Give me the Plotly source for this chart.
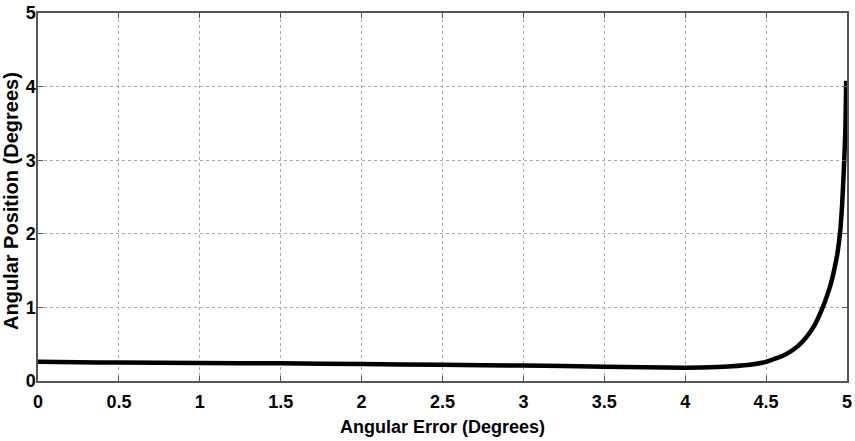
import plotly.graph_objects as go

# angular error (deg) vs angular position (deg)
err_deg = [0, 0.25, 0.5, 1, 1.5, 2, 2.5, 3, 3.5, 4, 4.2, 4.4, 4.5, 4.6,
           4.65, 4.7, 4.75, 4.8, 4.85, 4.88, 4.9, 4.92, 4.94, 4.95, 4.96,
           4.97, 4.98, 4.99, 4.995]
pos_deg = [0.26, 0.255, 0.25, 0.245, 0.24, 0.23, 0.22, 0.21, 0.195, 0.18,
           0.19, 0.22, 0.26, 0.34, 0.4, 0.48, 0.6, 0.76, 1.0, 1.18, 1.32,
           1.5, 1.72, 1.88, 2.08, 2.4, 2.85, 3.4, 4.08]

x_ticks = [0, 0.5, 1, 1.5, 2, 2.5, 3, 3.5, 4, 4.5, 5]
x_labels = ["0", "0.5", "1", "1.5", "2", "2.5", "3", "3.5", "4", "4.5", "5"]
y_ticks = [0, 1, 2, 3, 4, 5]

x_title = "Angular Error (Degrees)"
y_title = "Angular Position (Degrees)"

font = "Arial, Liberation Sans, sans-serif"

fig = go.Figure(go.Scatter(
    x=err_deg, y=pos_deg, mode="lines",
    line=dict(color="black", width=4.5, shape="spline", smoothing=0.3),
    showlegend=False
))

axis_style = dict(
    showline=True, linecolor="#555", linewidth=1.5, mirror="ticks",
    ticks="inside", ticklen=5, tickcolor="#555",
    showgrid=True, gridcolor="#aaa", griddash="dot", gridwidth=1,
    zeroline=False, automargin=False,
    tickfont=dict(family=font, size=18, color="black", weight="bold"),
)

fig.update_xaxes(range=[0, 5], tickvals=x_ticks, ticktext=x_labels,
                 ticklabelstandoff=4, **axis_style)
fig.update_yaxes(range=[0, 5], tickvals=y_ticks, ticklabelstandoff=-3,
                 **axis_style)

# axis titles placed by hand so they sit where the reference has them
fig.add_annotation(text=x_title, xref="paper", yref="paper", x=0.5, y=0,
                   yshift=-46, showarrow=False, yanchor="middle",
                   font=dict(family=font, size=18, color="black", weight="bold"))
fig.add_annotation(text=y_title, xref="paper", yref="paper", x=0, y=0.5,
                   xshift=-27, yshift=-4, textangle=-90, showarrow=False,
                   xanchor="center", borderpad=0,
                   font=dict(family=font, size=20, color="black", weight="bold"))

fig.update_layout(
    width=855, height=441,
    margin=dict(l=38, r=8, t=13, b=60),
    plot_bgcolor="white", paper_bgcolor="white",
)

# the page's default 8px body margin would shift the whole figure
fig.write_html("out.html", config={"displayModeBar": False},
               post_script="document.body.style.margin='0';")
